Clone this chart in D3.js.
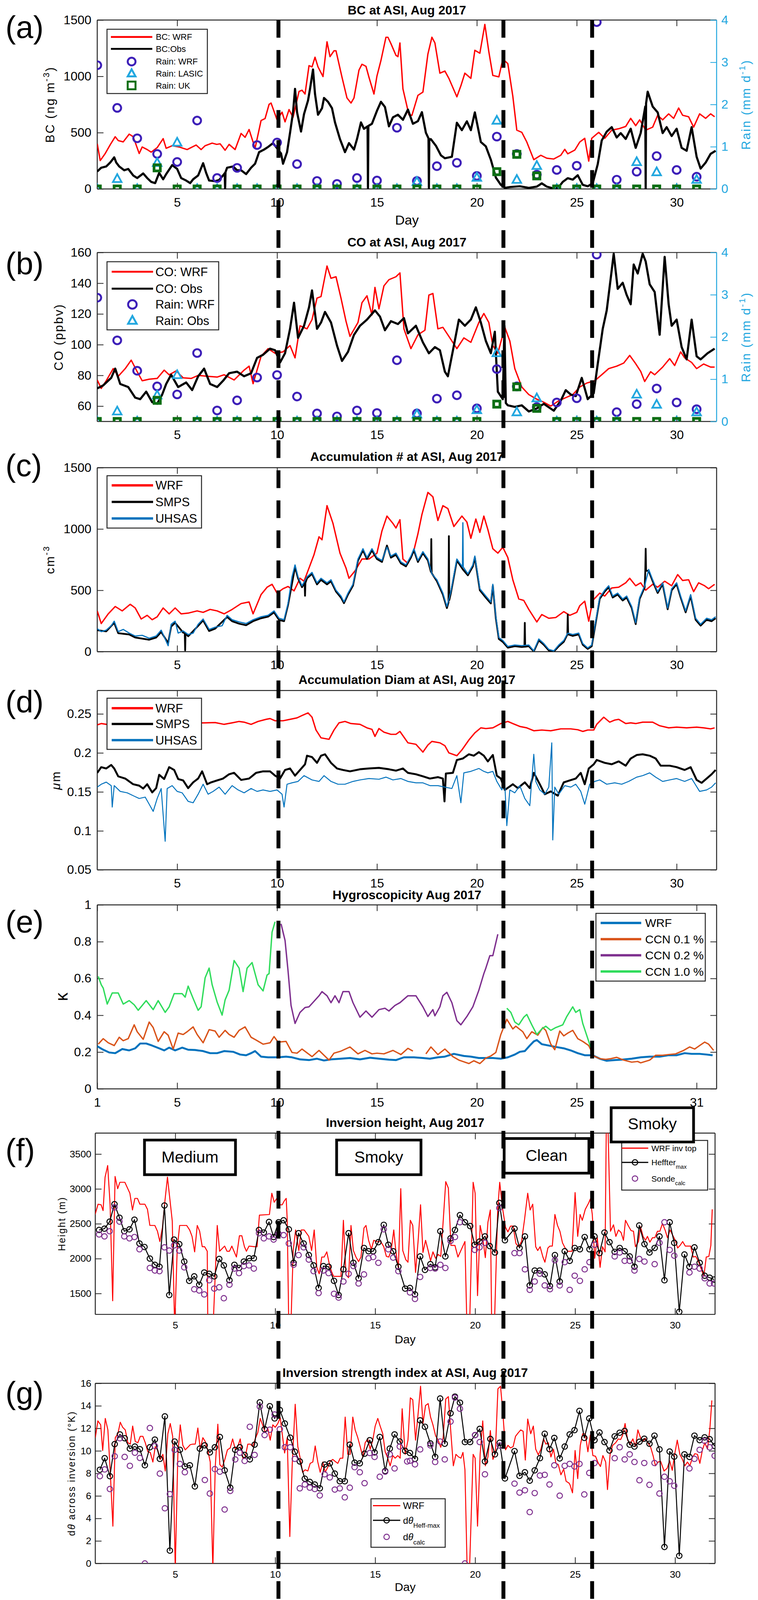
<!DOCTYPE html>
<html>
<head>
<meta charset="utf-8">
<script src="https://cdn.jsdelivr.net/npm/d3@7"></script>
<style>
  html, body { margin: 0; background: #fff; overflow: hidden; }
  svg { display: block; width: 100vw; height: 100vh; }
  svg text { font-family: "Liberation Sans", Arial, Helvetica, sans-serif; }
</style>
</head>
<body>
<svg id="fig"></svg>
<script>
// ---------- data (day of Aug 2017, value) ----------
const xTicks = [5, 10, 15, 20, 25, 30];
const xTicksE = [1, 5, 10, 15, 20, 25, 31];
const rainTicks = [0, 1, 2, 3, 4];
const dashDays = [10.07, 21.33, 25.77];

// (a) BC
const bcWrf = [[1.0,401],[1.15,252],[1.4,315],[1.66,396],[1.9,464],[2.05,430],[2.3,418],[2.6,487],[2.8,464],[3.1,315],[3.25,373],[3.5,350],[3.7,327],[4.0,367],[4.3,447],[4.45,361],[4.75,384],[5.1,373],[5.3,361],[5.5,350],[5.95,390],[6.2,350],[6.4,384],[6.75,407],[6.98,396],[7.15,401],[7.4,344],[7.6,396],[7.9,350],[8.2,493],[8.4,459],[8.6,528],[8.9,361],[9.2,608],[9.4,625],[9.6,751],[9.7,763],[10.0,614],[10.25,682],[10.4,596],[10.6,705],[10.8,636],[11.1,866],[11.25,877],[11.4,843],[11.6,1095],[11.75,1084],[11.9,1170],[12.05,1084],[12.3,998],[12.5,1307],[12.65,1175],[12.85,1227],[12.95,1227],[13.25,992],[13.5,808],[13.7,763],[13.85,808],[14.1,1055],[14.25,1107],[14.45,1089],[14.6,992],[14.85,843],[15.0,1003],[15.2,1141],[15.45,1347],[15.55,1347],[15.7,1290],[15.95,1187],[16.05,1175],[16.15,1296],[16.3,889],[16.6,659],[16.75,654],[17.05,831],[17.3,860],[17.55,1198],[17.75,1347],[17.9,1297],[18.15,1028],[18.4,1047],[18.6,982],[19.0,818],[19.2,916],[19.4,1028],[19.7,982],[19.9,1231],[20.15,1205],[20.4,1461],[20.6,1218],[20.8,1008],[21.1,995],[21.3,1152],[21.55,1113],[21.8,824],[22.0,522],[22.25,503],[22.5,417],[22.85,260],[23.2,299],[23.5,273],[23.85,266],[24.2,299],[24.4,352],[24.55,312],[24.9,345],[25.15,417],[25.4,450],[25.6,247],[25.75,450],[26.1,503],[26.4,450],[26.75,522],[27.1,535],[27.45,555],[27.7,627],[27.95,562],[28.15,614],[28.45,522],[28.8,549],[29.05,654],[29.3,614],[29.6,667],[29.85,627],[30.1,719],[30.3,654],[30.6,641],[30.85,549],[31.15,667],[31.45,627],[31.7,667],[31.9,641]];
const bcObs = [[1.0,155],[1.2,189],[1.45,200],[1.65,235],[1.85,281],[1.95,235],[2.1,200],[2.35,166],[2.55,178],[2.8,120],[3.0,97],[3.3,138],[3.5,97],[3.7,63],[3.9,52],[4.1,143],[4.3,86],[4.45,132],[4.75,212],[5.0,178],[5.2,97],[5.45,75],[5.65,52],[5.8,86],[6.05,120],[6.3,229],[6.45,143],[6.6,75],[6.9,69],[7.1,80],[7.35,132],[7.38,140],[7.4,0],[7.42,150],[7.5,189],[7.8,200],[8.0,166],[8.2,166],[8.45,132],[8.7,189],[8.9,224],[9.1,327],[9.35,350],[9.55,373],[9.8,407],[10.0,361],[10.2,315],[10.3,224],[10.5,327],[10.65,499],[10.8,682],[10.9,889],[11.0,682],[11.2,510],[11.35,665],[11.55,786],[11.65,889],[11.8,1061],[11.9,843],[12.05,659],[12.25,717],[12.35,808],[12.55,774],[12.75,717],[12.9,591],[13.15,442],[13.4,327],[13.6,407],[13.85,350],[14.0,442],[14.2,591],[14.35,534],[14.53,556],[14.55,0],[14.57,560],[14.75,579],[15.0,694],[15.2,774],[15.4,728],[15.6,556],[15.8,636],[16.05,659],[16.3,614],[16.55,705],[16.8,579],[17.05,602],[17.25,682],[17.45,499],[17.58,450],[17.6,0],[17.62,442],[17.7,442],[17.95,384],[18.2,299],[18.4,273],[18.75,286],[19.0,588],[19.25,522],[19.5,601],[19.7,522],[19.9,680],[20.2,417],[20.45,378],[20.7,260],[20.95,102],[21.2,37],[21.4,10],[21.65,17],[22.15,24],[22.6,10],[23.0,21],[23.25,50],[23.5,21],[23.85,4],[24.1,17],[24.3,63],[24.55,96],[24.8,83],[25.05,122],[25.3,37],[25.55,24],[25.8,50],[26.05,220],[26.25,430],[26.5,509],[26.75,549],[27.0,457],[27.2,496],[27.45,444],[27.7,535],[27.95,365],[28.2,496],[28.43,732],[28.45,0],[28.47,760],[28.55,864],[28.8,732],[29.05,680],[29.3,496],[29.5,549],[29.75,470],[30.0,535],[30.25,365],[30.5,339],[30.75,549],[31.0,286],[31.2,181],[31.45,234],[31.7,312],[31.95,339]];

// daily rain (mm/d), shared by (a) and (b)
const rainDays = [1,2,3,4,5,6,7,8,9,10,11,12,13,14,15,16,17,18,19,20,21,22,23,24,25,26,27,28,29,30,31];
const rainWrf = [2.93,1.92,1.2,0.83,0.64,1.62,0.26,0.5,1.04,1.1,0.59,0.19,0.12,0.26,0.2,1.45,0.19,0.54,0.62,0.31,1.24,0.83,0.34,0.45,0.55,3.95,0.22,0.41,0.78,0.45,0.29];
const rainLasic = [0,0.24,0,0.62,1.1,0,0,0,0,0,0,0,0,0,0,0,0.17,0,0,0.27,1.62,0.22,0.55,0,0,0,0,0.64,0.4,0,0.22];
const rainUk = [0,0,0,0.5,0,0,0,0,0,0,0,0,0,0,0,0,0,0,0,0,0.41,0.82,0.31,0,0,0,0,0,0,0,0];

// (b) CO
const coWrf = [[1.0,77],[1.2,71.5],[1.45,76.5],[1.8,84.4],[2.05,79.4],[2.4,84.4],[2.7,89.9],[3.0,82.4],[3.25,76.5],[3.6,77.5],[4.0,78],[4.35,83.4],[4.6,80.4],[4.95,82.9],[5.3,78.4],[5.7,78],[6.05,80],[6.5,79.4],[7.0,78.9],[7.35,80.4],[7.85,77],[8.35,83.4],[8.6,86],[8.8,74.6],[9.2,92.4],[9.55,97.4],[9.9,94.4],[10.3,95.3],[10.65,99.4],[10.9,91.4],[11.15,112.3],[11.5,110.3],[11.75,116.3],[12.0,130.3],[12.2,131.3],[12.5,151.2],[12.7,143.2],[12.95,144.2],[13.2,130.3],[13.45,115.3],[13.65,105.4],[14.05,114.4],[14.25,127.3],[14.5,131.8],[14.75,119.3],[14.9,137.3],[15.1,123.3],[15.35,138.3],[15.6,142.3],[15.95,144.2],[16.15,146.7],[16.35,110.3],[16.7,97.4],[17.05,106.4],[17.4,109.4],[17.6,132.3],[17.8,133.3],[18.05,110.3],[18.3,111.3],[18.6,105.4],[19.0,97.4],[19.35,104.4],[19.7,101.5],[20.1,114.4],[20.35,120.3],[20.6,114.4],[20.8,99.4],[21.05,94.4],[21.4,111.3],[21.65,102.4],[21.9,84.4],[22.25,72.4],[22.6,67.5],[23.0,64.5],[23.35,62.5],[23.7,60],[24.1,63.5],[24.45,65.5],[24.8,67.5],[25.15,72.4],[25.5,75],[25.9,76.5],[26.25,80.4],[26.6,84.4],[27.0,86],[27.35,88],[27.65,93],[27.95,87.6],[28.2,82.6],[28.4,76],[28.7,82.4],[28.9,80.4],[29.3,85.4],[29.65,90.9],[29.9,86.4],[30.2,95.3],[30.4,91.4],[30.75,88.4],[31.0,84.4],[31.35,87.4],[31.7,85.4],[31.9,85.4]];
const coObs = [[1.0,71.5],[1.3,73.5],[1.7,78.4],[1.9,84.4],[2.15,74.4],[2.55,72.4],[2.9,65.5],[3.15,64.5],[3.45,69.4],[3.75,62.5],[4.0,61.5],[4.25,67.5],[4.45,74.4],[4.7,80.4],[5.05,72.4],[5.45,75.4],[5.75,70.4],[6.05,79.4],[6.35,84.4],[6.65,74.4],[7.0,72.4],[7.3,76.5],[7.6,81.4],[8.0,82.4],[8.35,79.4],[8.7,81.4],[9.0,91.4],[9.3,93.4],[9.65,97.4],[9.9,96.4],[10.15,88.4],[10.4,94.4],[10.65,110.3],[10.85,127.3],[11.05,104.4],[11.35,112.3],[11.6,124.3],[11.75,135.3],[12.0,110.3],[12.2,114.4],[12.4,121.3],[12.7,114.4],[13.0,99.4],[13.25,89.4],[13.55,95.3],[13.85,106.4],[14.15,112.3],[14.5,116.3],[14.9,122.3],[15.15,118.3],[15.4,109.4],[15.7,115.3],[16.05,113.4],[16.35,117.3],[16.55,107.4],[16.95,112.3],[17.3,101.5],[17.6,94.4],[17.9,98.4],[18.15,96.4],[18.4,82.4],[18.55,79.4],[18.85,99.4],[19.1,116.3],[19.4,112.3],[19.7,116.3],[19.95,124.3],[20.2,114.4],[20.45,102.4],[20.7,94.4],[20.9,108.4],[21.05,69.4],[21.3,64.5],[21.38,112.3],[21.45,62],[21.55,60.5],[21.9,59.5],[22.25,60.5],[22.6,56.5],[23.0,58.5],[23.35,61.5],[23.85,57],[24.2,63.5],[24.45,70.4],[24.7,67.5],[24.95,66.5],[25.25,78.4],[25.55,64.5],[25.85,68.4],[26.05,87.4],[26.3,110.3],[26.5,122.3],[26.7,143.2],[26.85,159.2],[27.05,136.3],[27.3,140.3],[27.5,132.3],[27.7,126.3],[27.85,152.2],[28.05,146.3],[28.3,159.2],[28.45,154.2],[28.65,139.3],[28.9,134.3],[29.15,106.4],[29.4,157.2],[29.6,126.3],[29.75,112.3],[30.0,116.3],[30.25,98.4],[30.5,90.4],[30.75,116.3],[31.0,92.4],[31.2,90.4],[31.55,94.4],[31.9,97.4]];

// (c) accumulation number
const accWrf = [[1.0,332],[1.2,229],[1.55,308],[1.9,368],[2.25,332],[2.65,386],[2.9,356],[3.2,266],[3.5,296],[3.75,260],[4.0,284],[4.3,356],[4.6,308],[4.9,356],[5.2,308],[5.55,314],[6.0,332],[6.3,320],[6.65,344],[7.0,332],[7.35,308],[7.75,344],[8.2,392],[8.6,405],[8.8,308],[9.2,465],[9.5,525],[9.75,549],[10.0,477],[10.3,513],[10.55,531],[10.85,495],[11.15,598],[11.35,574],[11.6,682],[11.85,791],[12.1,936],[12.25,912],[12.5,1190],[12.8,1045],[13.15,803],[13.45,682],[13.6,598],[13.9,658],[14.25,755],[14.6,755],[15.0,803],[15.25,984],[15.5,1105],[15.8,1045],[15.95,1008],[16.15,1075],[16.3,755],[16.55,719],[16.85,827],[17.05,960],[17.25,1117],[17.55,1298],[17.8,1262],[18.05,1069],[18.3,1190],[18.55,1166],[18.85,1020],[19.25,1105],[19.5,1057],[19.7,924],[19.95,1081],[20.15,972],[20.35,1105],[20.55,996],[20.8,839],[21.05,803],[21.3,851],[21.55,767],[21.8,586],[22.1,429],[22.35,417],[22.6,344],[23.0,242],[23.25,302],[23.6,272],[23.95,278],[24.35,326],[24.65,296],[25.0,320],[25.15,374],[25.4,411],[25.6,248],[25.8,417],[26.15,477],[26.4,453],[26.75,519],[27.1,525],[27.45,561],[27.65,598],[27.95,537],[28.2,561],[28.45,501],[28.8,549],[29.05,525],[29.4,574],[29.75,537],[30.05,628],[30.3,580],[30.6,586],[30.85,489],[31.1,561],[31.4,537],[31.6,513],[31.9,549]];
const accSmps = [[1.0,175],[1.45,165],[1.85,235],[2.05,150],[2.6,140],[2.9,115],[3.6,97],[3.95,115],[4.2,160],[4.55,70],[4.7,205],[4.9,235],[5.3,155],[5.38,150],[5.4,10],[5.42,150],[5.55,125],[6.05,210],[6.3,255],[6.6,168],[6.9,187],[7.5,282],[7.75,248],[8.1,228],[8.45,215],[8.8,248],[9.2,272],[9.55,285],[9.85,320],[10.1,258],[10.35,248],[10.55,380],[10.9,690],[11.05,598],[11.25,525],[11.38,560],[11.4,455],[11.42,560],[11.5,598],[11.75,634],[12.0,548],[12.2,585],[12.5,548],[12.7,574],[12.95,490],[13.2,440],[13.35,395],[13.55,465],[13.8,538],[14.05,742],[14.3,826],[14.5,755],[14.75,826],[15.0,755],[15.25,731],[15.5,865],[15.7,766],[15.95,790],[16.2,719],[16.45,695],[16.7,767],[16.85,826],[17.05,731],[17.3,803],[17.55,743],[17.7,650],[17.72,918],[17.74,640],[18.0,574],[18.3,465],[18.5,355],[18.58,400],[18.6,942],[18.62,420],[18.7,477],[19.0,743],[19.3,670],[19.55,622],[19.8,695],[19.9,767],[20.15,500],[20.45,440],[20.7,393],[20.8,537],[20.95,272],[21.1,103],[21.3,79],[21.55,32],[21.9,44],[22.25,38],[22.38,40],[22.4,235],[22.42,40],[22.6,44],[22.85,2],[23.1,92],[23.35,56],[23.6,10],[23.85,0],[24.1,44],[24.35,80],[24.53,140],[24.55,302],[24.57,140],[24.8,128],[25.1,140],[25.3,56],[25.55,22],[25.75,44],[25.95,236],[26.15,430],[26.4,490],[26.6,525],[26.8,441],[27.05,465],[27.3,417],[27.5,441],[27.75,356],[27.95,224],[28.15,430],[28.4,525],[28.43,650],[28.45,839],[28.47,660],[28.6,658],[28.8,575],[29.05,478],[29.3,550],[29.55,345],[29.75,500],[30.0,550],[30.2,442],[30.45,320],[30.7,453],[30.95,260],[31.2,212],[31.5,260],[31.75,248],[31.95,272]];
const accUhsas = [[1.0,187],[1.2,163],[1.45,175],[1.7,211],[1.85,248],[2.05,163],[2.3,181],[2.6,151],[2.9,127],[3.25,133],[3.6,109],[3.95,127],[4.2,175],[4.4,103],[4.55,48],[4.7,223],[4.9,248],[5.05,151],[5.3,169],[5.55,139],[5.8,151],[6.05,223],[6.3,266],[6.6,181],[6.9,199],[7.25,211],[7.5,296],[7.75,260],[8.1,242],[8.45,229],[8.8,260],[9.2,284],[9.55,296],[9.85,332],[10.1,272],[10.35,260],[10.55,392],[10.75,610],[10.9,707],[11.05,610],[11.25,537],[11.5,610],[11.75,646],[12.0,561],[12.2,598],[12.5,561],[12.7,586],[12.95,501],[13.2,453],[13.35,405],[13.55,477],[13.8,549],[14.05,755],[14.3,839],[14.5,767],[14.75,839],[15.0,767],[15.25,743],[15.5,851],[15.7,779],[15.95,803],[16.2,731],[16.45,707],[16.7,779],[16.85,839],[17.05,743],[17.3,815],[17.55,755],[17.75,634],[18.0,586],[18.3,477],[18.5,368],[18.7,489],[19.0,755],[19.28,690],[19.3,1051],[19.32,690],[19.55,634],[19.8,707],[19.9,779],[20.15,513],[20.45,453],[20.7,405],[20.8,549],[20.95,284],[21.1,115],[21.3,91],[21.55,42],[21.9,54],[22.25,48],[22.6,54],[22.85,6],[23.1,103],[23.35,66],[23.6,18],[23.85,6],[24.1,54],[24.35,91],[24.55,151],[24.8,139],[25.1,151],[25.3,66],[25.55,30],[25.75,54],[25.95,248],[26.15,441],[26.4,501],[26.6,537],[26.8,453],[27.05,477],[27.3,429],[27.5,453],[27.75,368],[27.95,235],[28.15,441],[28.4,537],[28.6,670],[28.8,586],[29.05,489],[29.3,561],[29.55,356],[29.75,513],[30.0,561],[30.2,453],[30.45,332],[30.7,465],[30.95,272],[31.2,223],[31.5,272],[31.75,260],[31.95,284]];

// (d) accumulation diameter (um)
const diamWrf = [[1.0,0.236],[1.2,0.2376],[1.45,0.2366],[1.8,0.237],[2.55,0.2376],[3.5,0.2376],[4.45,0.2381],[5.45,0.2381],[6.4,0.2385],[6.9,0.2389],[7.35,0.2366],[7.75,0.2385],[8.1,0.2403],[8.35,0.2394],[8.7,0.2366],[9.05,0.2403],[9.45,0.243],[9.65,0.244],[9.9,0.2412],[10.3,0.2412],[10.65,0.243],[11.0,0.2449],[11.3,0.2485],[11.55,0.2513],[11.75,0.2458],[11.95,0.2293],[12.2,0.2193],[12.6,0.2174],[12.85,0.2293],[13.1,0.2385],[13.4,0.2403],[13.7,0.2376],[14.15,0.2366],[14.5,0.2321],[14.75,0.2302],[14.9,0.2211],[15.1,0.2312],[15.35,0.2266],[15.7,0.2238],[15.95,0.2238],[16.15,0.2275],[16.35,0.2202],[16.55,0.2129],[16.95,0.211],[17.3,0.201],[17.55,0.2101],[17.75,0.2147],[18.15,0.2129],[18.4,0.2092],[18.6,0.2],[19.0,0.1964],[19.25,0.2037],[19.6,0.2165],[19.9,0.2257],[20.2,0.2321],[20.45,0.2312],[20.8,0.2321],[21.2,0.2376],[21.55,0.2403],[21.8,0.2376],[22.15,0.2339],[22.5,0.2321],[22.85,0.2284],[23.25,0.2293],[23.7,0.2284],[24.2,0.2308],[24.7,0.2308],[25.05,0.2297],[25.3,0.2275],[25.55,0.2293],[25.85,0.2293],[26.0,0.2366],[26.35,0.2458],[26.65,0.2394],[26.9,0.2421],[27.1,0.243],[27.45,0.2376],[27.7,0.2385],[27.95,0.2376],[28.3,0.2394],[28.8,0.2394],[29.15,0.2348],[29.6,0.2321],[30.0,0.233],[30.5,0.2321],[31.0,0.233],[31.35,0.2321],[31.7,0.2308],[31.9,0.2321]];
const diamSmps = [[1.0,0.1744],[1.2,0.1817],[1.45,0.18],[1.7,0.1845],[1.85,0.18],[2.05,0.1699],[2.4,0.1671],[2.8,0.1598],[3.1,0.158],[3.3,0.1543],[3.5,0.1598],[3.75,0.1493],[3.95,0.1548],[4.1,0.1719],[4.35,0.1665],[4.6,0.1817],[4.85,0.1781],[5.05,0.1665],[5.3,0.1647],[5.55,0.1548],[5.8,0.1622],[6.05,0.1671],[6.25,0.1763],[6.5,0.1598],[6.7,0.1622],[7.0,0.1647],[7.3,0.1671],[7.6,0.1726],[7.85,0.1744],[8.2,0.1653],[8.6,0.1671],[8.95,0.1744],[9.3,0.1763],[9.65,0.1763],[9.9,0.1708],[10.15,0.1671],[10.4,0.1781],[10.65,0.18],[10.9,0.1708],[11.15,0.1781],[11.4,0.1854],[11.5,0.1964],[11.75,0.1946],[12.0,0.1872],[12.2,0.1964],[12.4,0.1982],[12.7,0.1872],[13.0,0.18],[13.3,0.1781],[13.65,0.1763],[14.15,0.179],[14.6,0.18],[15.1,0.1808],[15.6,0.179],[15.95,0.1772],[16.3,0.18],[16.55,0.1744],[16.95,0.1726],[17.3,0.1699],[17.65,0.1671],[18.05,0.1689],[18.3,0.1671],[18.38,0.1378],[18.45,0.1735],[18.8,0.1744],[19.0,0.1909],[19.3,0.1928],[19.6,0.1982],[19.85,0.1964],[20.1,0.201],[20.35,0.1964],[20.55,0.1891],[20.8,0.1973],[21.0,0.1708],[21.2,0.1671],[21.4,0.1525],[21.8,0.1598],[22.05,0.1548],[22.4,0.1622],[22.65,0.1548],[22.85,0.1744],[23.15,0.1598],[23.4,0.147],[23.7,0.1506],[24.05,0.1451],[24.35,0.1622],[24.65,0.1647],[24.95,0.1671],[25.2,0.1744],[25.4,0.1598],[25.6,0.18],[25.85,0.1854],[26.0,0.1909],[26.4,0.1872],[26.75,0.1854],[27.1,0.1891],[27.45,0.1836],[27.7,0.1928],[28.0,0.1973],[28.3,0.1982],[28.65,0.1964],[28.95,0.1928],[29.2,0.1836],[29.65,0.1836],[30.0,0.1817],[30.4,0.1781],[30.7,0.1817],[31.0,0.1653],[31.25,0.1616],[31.5,0.1671],[31.75,0.1726],[31.95,0.1781]];
const diamUhsas = [[1.0,0.1561],[1.2,0.1598],[1.45,0.1625],[1.7,0.158],[1.75,0.1305],[1.85,0.158],[2.15,0.1506],[2.5,0.1488],[2.8,0.1451],[3.1,0.1415],[3.4,0.1433],[3.6,0.1342],[3.8,0.125],[4.0,0.1415],[4.2,0.1543],[4.4,0.0866],[4.5,0.1543],[4.75,0.158],[5.0,0.1506],[5.25,0.1488],[5.55,0.1378],[5.8,0.136],[6.05,0.147],[6.3,0.1598],[6.55,0.147],[6.8,0.1506],[7.1,0.1561],[7.4,0.147],[7.75,0.158],[8.05,0.1525],[8.35,0.1488],[8.7,0.1543],[9.0,0.1506],[9.3,0.1525],[9.65,0.1506],[10.0,0.1525],[10.25,0.147],[10.35,0.1305],[10.5,0.1598],[10.75,0.1616],[11.05,0.1634],[11.35,0.1708],[11.75,0.1653],[12.1,0.1634],[12.35,0.1708],[12.7,0.1634],[13.05,0.1598],[13.4,0.1598],[13.8,0.1634],[14.15,0.1653],[14.6,0.1671],[15.1,0.1662],[15.45,0.1689],[15.8,0.1653],[16.2,0.1671],[16.55,0.1634],[16.95,0.1616],[17.3,0.1616],[17.65,0.158],[18.05,0.158],[18.4,0.1561],[18.75,0.1543],[19.0,0.1708],[19.2,0.136],[19.35,0.1744],[19.7,0.1763],[20.1,0.18],[20.35,0.1763],[20.55,0.1744],[20.8,0.1763],[21.0,0.1634],[21.25,0.1525],[21.4,0.1598],[21.5,0.1067],[21.65,0.1525],[21.9,0.1488],[22.15,0.158],[22.4,0.1415],[22.65,0.1323],[22.85,0.1982],[22.95,0.1634],[23.15,0.1525],[23.4,0.147],[23.6,0.1561],[23.75,0.2129],[23.8,0.0884],[23.9,0.1561],[24.1,0.147],[24.4,0.158],[24.7,0.1561],[24.95,0.1598],[25.2,0.1506],[25.4,0.1342],[25.65,0.1598],[25.9,0.1634],[26.15,0.1653],[26.5,0.1598],[26.9,0.1616],[27.25,0.1598],[27.6,0.1634],[28.0,0.1689],[28.3,0.1708],[28.65,0.1744],[28.95,0.1689],[29.3,0.1634],[29.65,0.1653],[30.0,0.1671],[30.4,0.1634],[30.75,0.1671],[31.15,0.1506],[31.5,0.1525],[31.75,0.1561],[31.95,0.1616]];

// (e) hygroscopicity kappa (null = no data)
const kWrf = [[1.0,0.2316],[1.3,0.2128],[1.6,0.1977],[1.9,0.194],[2.25,0.2165],[2.6,0.209],[2.9,0.2203],[3.15,0.2466],[3.45,0.2466],[3.75,0.2353],[4.1,0.2203],[4.35,0.209],[4.6,0.2241],[4.9,0.209],[5.25,0.2241],[5.55,0.2128],[5.9,0.2113],[6.3,0.2053],[6.65,0.194],[7.0,0.194],[7.35,0.2053],[7.8,0.2015],[8.15,0.1865],[8.45,0.1827],[8.7,0.194],[8.9,0.2053],[9.2,0.1752],[9.55,0.1714],[10.05,0.1714],[10.45,0.1752],[10.75,0.1714],[11.15,0.1602],[11.6,0.1564],[12.0,0.1639],[12.35,0.1541],[12.7,0.1602],[13.2,0.1639],[13.65,0.1677],[14.15,0.1602],[14.65,0.1692],[15.1,0.1639],[15.6,0.1586],[15.95,0.1564],[16.35,0.1714],[16.85,0.1714],[17.3,0.1677],[17.65,0.1639],[18.05,0.1714],[18.4,0.1752],[18.85,0.1902],[19.35,0.1789],[19.7,0.1752],[20.1,0.1677],[20.45,0.1677],[20.8,0.1677],[21.2,0.1639],[21.55,0.1714],[21.9,0.1865],[22.15,0.2015],[22.4,0.2053],[22.65,0.2353],[22.85,0.2579],[23.0,0.2654],[23.25,0.2429],[23.6,0.2353],[23.95,0.2278],[24.35,0.2203],[24.7,0.209],[25.05,0.194],[25.4,0.1827],[25.8,0.1827],[26.15,0.1639],[26.5,0.1526],[26.9,0.1564],[27.25,0.1586],[27.75,0.1639],[28.2,0.1714],[28.65,0.1752],[29.15,0.1752],[29.6,0.1827],[30.0,0.1827],[30.4,0.194],[30.75,0.1902],[31.15,0.1902],[31.5,0.1865],[31.8,0.1827]];
const kCcn01 = [[1.05,0.2429],[1.3,0.2729],[1.55,0.2504],[1.85,0.2353],[2.1,0.2805],[2.3,0.2617],[2.55,0.2729],[2.85,0.3481],[3.0,0.3105],[3.3,0.2692],[3.6,0.3632],[3.8,0.3331],[4.05,0.2579],[4.35,0.3105],[4.55,0.2917],[4.8,0.2165],[5.05,0.303],[5.3,0.2955],[5.5,0.3105],[5.8,0.3368],[6.0,0.2955],[6.3,0.2504],[6.6,0.3218],[6.9,0.3143],[7.1,0.2805],[7.4,0.318],[7.6,0.2955],[7.85,0.2805],[8.1,0.318],[8.4,0.3368],[8.7,0.2805],[8.95,0.2654],[9.3,0.2429],[9.65,0.2504],[9.85,0.2842],[10.05,0.2541],[10.45,0.2579],[10.75,0.1977],[11.0,0.194],[11.25,0.2165],[11.75,0.1752],[12.1,0.209],[12.35,0.1827],[12.6,0.1564],[12.85,0.194],[13.2,0.2053],[13.65,0.2278],[14.05,0.1902],[14.4,0.209],[14.75,0.1902],[15.0,0.194],[15.35,0.1902],[15.8,0.209],[16.2,0.1865],[16.55,0.2203],[16.8,0.2053],[17.1,null],[17.45,0.1902],[17.7,0.2278],[18.05,0.1865],[18.4,0.2165],[18.8,0.1752],[19.1,0.1564],[19.6,0.1376],[19.85,0.1526],[20.15,0.1376],[20.45,0.1677],[20.7,0.1789],[20.95,0.1977],[21.2,0.2955],[21.5,0.3782],[21.8,0.3256],[21.95,0.3406],[22.3,0.3105],[22.5,0.2729],[22.75,0.3105],[23.05,0.2917],[23.3,0.3331],[23.45,0.318],[23.7,0.2429],[23.9,0.2128],[24.15,0.3143],[24.35,0.288],[24.55,0.303],[24.8,0.318],[25.05,0.2729],[25.3,0.2579],[25.6,0.2353],[25.85,0.1789],[26.15,0.1639],[26.45,0.1602],[26.7,0.1639],[27.0,0.1714],[27.35,0.1564],[27.75,0.1451],[28.05,0.1489],[28.2,0.1414],[28.65,0.1564],[28.95,0.1827],[29.3,0.1827],[29.6,0.1865],[29.95,0.1902],[30.35,0.209],[30.65,0.2278],[30.9,0.2165],[31.15,0.2353],[31.4,0.2541],[31.6,0.2429],[31.85,0.209]];
const kCcn02 = [[10.2,0.897],[10.4,0.8068],[10.55,0.6414],[10.7,0.4534],[10.9,0.3556],[11.15,0.4158],[11.4,0.4421],[11.6,0.4459],[11.85,0.4759],[12.1,0.506],[12.25,0.5286],[12.5,0.506],[12.7,0.4684],[12.9,0.506],[13.1,0.4684],[13.3,0.5286],[13.6,0.5286],[13.8,0.4684],[14.15,0.3895],[14.45,0.4233],[14.75,0.3895],[15.1,0.4308],[15.4,0.4383],[15.6,0.4233],[15.9,0.4534],[16.15,0.4684],[16.55,0.506],[16.95,0.506],[17.3,0.4459],[17.55,0.3932],[17.8,0.4308],[17.9,0.397],[18.15,0.4459],[18.3,0.506],[18.5,0.5248],[18.75,0.4684],[19.0,0.3707],[19.2,0.3481],[19.5,0.3932],[19.8,0.4459],[20.1,0.5361],[20.35,0.6263],[20.45,0.6564],[20.65,0.7241],[20.8,0.7241],[21.05,0.8406]];
const kCcn10 = [[1.05,0.6113],[1.2,0.5662],[1.3,0.5474],[1.5,0.4609],[1.75,0.5211],[2.05,0.5211],[2.3,0.4609],[2.6,0.4797],[2.85,0.4571],[3.05,0.4271],[3.45,0.4797],[3.8,0.4308],[4.05,0.4797],[4.4,0.4158],[4.6,0.4459],[4.85,0.5173],[5.25,0.5173],[5.4,0.4985],[5.55,0.5586],[5.8,0.491],[6.05,0.4271],[6.2,0.4459],[6.4,0.6038],[6.6,0.6564],[6.75,0.5662],[7.0,0.4722],[7.25,0.4008],[7.4,0.4835],[7.6,0.5361],[7.85,0.6977],[8.1,0.6564],[8.3,0.5286],[8.5,0.6564],[8.75,0.6865],[9.05,0.5662],[9.3,0.5323],[9.5,0.6188],[9.6,0.6263],[9.75,0.8519],[9.9,0.9083],[15,null],[21.5,0.4383],[21.7,0.4158],[21.9,0.3632],[22.1,0.3481],[22.35,0.3895],[22.5,0.4045],[22.75,0.3481],[23.0,0.2955],[23.25,0.3256],[23.45,0.3406],[23.7,0.318],[23.95,0.3331],[24.3,0.3481],[24.5,0.3932],[24.8,0.4459],[24.95,0.4158],[25.15,0.4308],[25.3,0.3556],[25.6,0.2579],[25.7,0.2241]];

// (f) inversion height (m); values below 1200 / above 3800 are off-axis
const invWrf = [[0.99,2633],[1.14,2781],[1.29,2772],[1.39,2689],[1.49,3169],[1.62,3335],[1.74,2781],[1.87,1395],[1.99,3178],[2.12,3003],[2.23,3095],[2.48,3095],[2.73,2938],[2.86,2698],[2.98,2864],[3.11,2864],[3.23,2781],[3.48,2781],[3.61,2707],[3.73,2476],[3.98,2476],[4.11,2393],[4.23,2245],[4.36,2448],[4.48,2818],[4.61,3169],[4.73,2855],[4.85,2541],[4.97,1000],[5.1,2153],[5.22,2476],[5.57,2476],[5.72,2411],[5.84,2319],[5.97,2097],[6.1,2476],[6.22,2393],[6.35,2171],[6.47,2171],[6.6,2106],[6.63,1000],[6.89,1000],[7.1,2476],[7.22,2106],[7.47,2180],[7.59,2106],[7.71,2106],[7.83,2180],[8.06,2023],[8.21,2328],[8.33,2328],[8.46,2171],[8.56,2106],[8.69,2180],[8.96,2171],[9.09,2171],[9.21,2624],[9.71,2633],[9.83,2938],[9.95,2809],[10.08,2864],[10.2,2772],[10.35,2772],[10.45,2827],[10.55,2864],[10.6,2559],[10.68,1000],[10.78,1000],[10.9,2116],[11.02,2411],[11.18,2116],[11.3,2411],[11.45,2411],[11.68,2319],[11.82,2116],[11.95,2411],[12.08,1875],[12.2,1783],[12.33,2023],[12.45,2023],[12.58,2097],[12.7,1931],[12.81,1820],[12.92,1746],[13.29,1746],[13.41,2550],[13.54,1765],[13.67,1727],[13.79,2476],[13.91,2116],[14.04,2023],[14.17,1958],[14.29,2023],[14.44,2439],[14.54,2476],[14.67,2263],[14.81,2134],[14.93,2263],[15.06,2245],[15.28,2245],[15.43,2171],[15.56,2032],[15.68,2023],[15.8,2116],[15.93,2411],[16.03,2116],[16.16,1857],[16.28,3003],[16.38,2116],[16.53,1986],[16.64,1949],[16.76,2550],[16.88,2476],[17.02,1801],[17.15,2263],[17.27,2772],[17.39,2088],[17.52,2263],[17.65,2116],[17.77,1968],[17.89,2097],[18.02,2005],[18.15,2060],[18.28,2032],[18.4,2531],[18.53,3104],[18.66,3012],[18.79,2189],[18.99,2189],[19.14,2023],[19.49,2245],[19.59,1000],[19.72,1000],[19.9,3095],[20.0,2938],[20.12,1469],[20.25,2476],[20.38,2300],[20.51,2014],[20.64,2522],[20.76,2698],[20.83,1000],[20.96,1000],[21.13,2707],[21.23,3095],[21.36,2744],[21.52,2448],[21.64,2384],[21.77,2467],[21.9,2467],[22.04,2217],[22.17,2171],[22.32,2245],[22.47,2559],[22.63,2938],[22.75,2698],[22.88,2781],[23.03,2171],[23.13,2116],[23.25,2171],[23.39,2023],[23.49,1949],[23.64,2153],[23.74,2180],[23.86,2180],[23.99,2633],[24.12,2476],[24.24,2393],[24.37,2226],[24.5,2153],[24.63,2106],[24.85,2106],[25.0,2947],[25.13,2319],[25.25,2633],[25.36,2550],[25.51,2707],[25.68,2799],[25.76,2855],[25.86,2633],[25.98,2005],[26.11,2300],[26.25,1875],[26.37,2171],[26.5,2097],[26.57,4200],[26.62,4200],[26.77,2393],[26.92,2485],[27.04,2319],[27.17,2411],[27.3,2374],[27.42,2263],[27.52,2550],[27.67,2467],[27.8,2402],[27.92,2393],[28.02,2171],[28.17,2245],[28.27,2457],[28.4,2319],[28.52,2263],[28.62,2319],[28.74,2236],[28.87,2300],[28.99,2300],[29.12,2393],[29.24,2393],[29.37,2504],[29.5,2411],[29.62,2300],[29.75,2411],[29.88,2337],[30.01,2263],[30.13,2153],[30.25,2189],[30.38,2245],[30.51,2180],[30.78,2180],[30.91,2023],[31.03,2032],[31.16,1968],[31.29,1866],[31.44,1746],[31.56,2023],[31.69,2032],[31.79,2189],[31.86,2707]];
const invHeff = [[1.19,2411],[1.46,2430],[1.72,2531],[1.96,2781],[2.21,2587],[2.45,2393],[2.71,2420],[2.96,2559],[3.21,2217],[3.46,2167],[3.73,2001],[3.98,1912],[4.21,1884],[4.46,2762],[4.7,1478],[4.94,2273],[5.2,2208],[5.45,1958],[5.7,1681],[5.95,1746],[6.2,1626],[6.45,1801],[6.7,1783],[6.95,1746],[7.2,1995],[7.43,1903],[7.71,1690],[7.96,1912],[8.19,1866],[8.43,1958],[8.69,2005],[8.93,2005],[9.19,2411],[9.43,2374],[9.69,2526],[9.92,2310],[10.17,2522],[10.42,2550],[10.68,2420],[10.92,1940],[11.17,2365],[11.42,2217],[11.68,2051],[11.92,1903],[12.17,1579],[12.41,1893],[12.67,1884],[12.94,1681],[13.17,1478],[13.41,1847],[13.67,2365],[13.91,1940],[14.17,1718],[14.44,2153],[14.67,2106],[14.9,2106],[15.16,2236],[15.43,2485],[15.66,2199],[15.9,2106],[16.16,1884],[16.5,1570],[16.74,1579],[16.99,1487],[17.25,2032],[17.49,1838],[17.76,1921],[18.0,1875],[18.26,2393],[18.51,2032],[18.77,2291],[18.99,2411],[19.24,2624],[19.49,2522],[19.75,2467],[19.98,2199],[20.22,2245],[20.49,2319],[20.73,2180],[20.99,2088],[21.21,2799],[21.49,2263],[21.97,2430],[22.22,2153],[22.49,2319],[22.73,1616],[22.98,1829],[23.23,1829],[23.48,1774],[23.74,1607],[23.99,2051],[24.23,1672],[24.48,2106],[24.73,1968],[24.98,2153],[25.24,2134],[25.48,2310],[25.72,2134],[25.97,2319],[26.22,2079],[26.47,2374],[26.72,2236],[26.98,2097],[27.23,2153],[27.48,2106],[27.73,2032],[27.97,1884],[28.21,2476],[28.47,2208],[28.72,2088],[28.98,2153],[29.22,2319],[29.47,1690],[29.73,2522],[29.96,2226],[30.21,1237],[30.47,2060],[30.72,1884],[30.97,2162],[31.23,1940],[31.48,1755],[31.73,1727],[31.95,1700]];
const invSonde = [[1.19,2347],[1.46,2319],[1.72,2393],[1.96,2735],[2.21,2531],[2.45,2319],[2.71,2291],[2.96,2310],[3.21,2134],[3.73,1866],[3.98,1829],[4.21,1820],[4.46,2162],[4.7,2116],[4.94,2189],[5.2,2116],[5.45,1875],[5.95,1561],[6.2,1543],[6.45,1487],[6.7,1690],[6.95,1570],[7.2,1589],[7.43,1432],[7.71,1626],[7.96,1857],[8.19,1792],[8.43,1893],[8.69,1903],[8.93,1857],[9.19,2365],[9.43,2291],[9.69,2319],[9.92,2273],[10.17,2356],[10.42,2337],[10.68,2217],[10.92,1912],[11.17,2051],[11.42,2162],[11.68,1986],[11.92,1820],[12.17,1506],[12.41,1829],[12.67,1792],[12.94,1496],[13.17,1441],[13.41,1672],[13.67,1783],[13.91,1893],[14.17,1644],[14.44,1774],[14.67,2005],[14.9,2023],[15.16,1940],[15.43,2420],[15.66,2134],[15.9,2014],[16.16,1820],[16.74,1515],[16.99,1422],[17.25,1737],[17.76,1866],[18.0,1857],[18.26,1912],[18.51,1866],[18.77,2254],[18.99,2310],[19.24,2522],[19.98,2125],[20.22,2162],[20.49,2226],[21.21,2726],[21.97,2079],[22.22,2079],[22.49,1847],[22.73,1552],[22.98,1672],[23.23,1783],[23.48,1616],[23.74,1561],[23.99,1977],[24.23,1616],[24.48,1949],[24.73,1552],[24.98,1755],[25.24,1681],[25.48,1847],[25.72,1949],[25.97,2199],[26.98,2032],[27.23,2088],[27.48,1968],[27.73,1968],[27.97,1829],[28.21,1995],[28.47,1958],[28.98,1921],[29.22,2226],[29.47,2522],[29.73,2125],[29.96,2042],[30.72,1801],[30.97,1884],[31.23,1857],[31.48,1718],[31.73,1644],[31.95,1644]];

// (g) inversion strength (K); negative = off-axis
const dthWrf = [[1.0,11.17],[1.13,12.66],[1.27,12.31],[1.37,10.03],[1.5,12.88],[1.63,11.86],[1.75,8.1],[1.88,3.31],[2.0,11.17],[2.13,11.52],[2.25,12.54],[2.37,12.09],[2.5,11.86],[2.63,10.72],[2.75,10.6],[2.87,12.2],[3.0,10.83],[3.13,10.72],[3.25,11.29],[3.38,11.29],[3.5,10.72],[3.63,9.92],[3.75,9.86],[3.88,9.01],[4.0,10.38],[4.13,10.03],[4.25,9.24],[4.38,9.69],[4.5,8.21],[4.63,11.52],[4.75,12.43],[4.87,11.29],[5.0,-0.5],[5.13,9.69],[5.25,12.31],[5.38,10.49],[5.5,10.09],[5.63,10.32],[5.75,10.55],[5.88,10.6],[6.0,10.6],[6.13,12.03],[6.25,10.15],[6.38,11.17],[6.5,10.83],[6.63,10.03],[6.75,9.01],[6.88,-0.5],[7.0,8.55],[7.13,12.37],[7.23,8.78],[7.35,8.55],[7.48,9.24],[7.61,10.09],[7.75,10.26],[7.87,11.06],[8.0,10.15],[8.13,10.38],[8.25,11.06],[8.38,9.35],[8.5,9.46],[8.63,10.6],[8.75,10.6],[8.88,10.38],[9.0,11.06],[9.13,11.63],[9.25,12.88],[9.38,12.26],[9.5,11.63],[9.63,11.97],[9.75,10.95],[9.88,12.31],[10.0,12.09],[10.13,12.43],[10.25,12.94],[10.35,11.52],[10.47,9.81],[10.6,11.17],[10.73,2.39],[10.85,8.78],[11.0,14.14],[11.13,10.38],[11.25,9.35],[11.37,8.1],[11.5,8.32],[11.63,8.21],[11.75,8.89],[11.88,9.01],[12.0,10.43],[12.13,9.01],[12.25,8.1],[12.38,9.01],[12.5,8.1],[12.63,8.55],[12.75,9.06],[12.88,9.24],[13.0,9.06],[13.13,8.89],[13.25,9.35],[13.38,9.35],[13.5,13.0],[13.63,9.69],[13.75,9.69],[13.88,13.0],[14.0,11.86],[14.13,11.17],[14.25,10.38],[14.38,9.46],[14.5,10.72],[14.63,11.06],[14.75,10.15],[14.88,10.95],[15.0,12.2],[15.13,12.88],[15.25,12.2],[15.38,11.52],[15.5,9.92],[15.63,9.35],[15.75,8.67],[15.88,9.58],[16.0,9.35],[16.13,9.58],[16.25,9.35],[16.35,13.74],[16.5,9.69],[16.64,10.95],[16.76,14.71],[16.88,14.54],[17.02,10.95],[17.15,13.34],[17.27,15.74],[17.39,12.43],[17.52,14.03],[17.65,14.2],[17.77,13.0],[17.89,12.31],[18.02,11.35],[18.15,10.95],[18.28,10.32],[18.4,11.17],[18.53,14.6],[18.66,14.82],[18.79,11.52],[18.91,8.67],[19.04,9.69],[19.17,9.46],[19.29,9.35],[19.39,9.86],[19.49,8.32],[19.6,-0.5],[19.72,-0.5],[19.9,9.69],[20.0,9.35],[20.12,3.31],[20.25,9.69],[20.38,12.66],[20.51,8.67],[20.64,9.46],[20.76,11.8],[20.89,9.24],[21.01,9.81],[21.14,15.51],[21.27,15.74],[21.37,13.74],[21.52,10.09],[21.64,10.49],[21.77,10.26],[21.9,10.38],[22.02,11.29],[22.14,11.57],[22.28,11.86],[22.4,11.74],[22.51,9.18],[22.63,12.83],[22.78,11.52],[22.91,12.2],[23.03,10.15],[23.16,9.64],[23.29,10.15],[23.42,11.06],[23.54,10.6],[23.66,10.72],[23.79,9.46],[23.92,10.15],[24.04,8.89],[24.16,8.78],[24.29,7.87],[24.43,8.38],[24.55,7.3],[24.7,7.13],[24.75,6.96],[24.87,6.27],[25.0,10.03],[25.13,7.53],[25.26,10.49],[25.38,11.52],[25.51,11.52],[25.64,9.92],[25.76,11.4],[25.89,9.58],[26.02,9.52],[26.15,8.95],[26.27,8.61],[26.39,9.58],[26.53,9.01],[26.62,6.56],[26.75,9.69],[26.88,10.49],[27.03,10.72],[27.16,11.06],[27.28,11.0],[27.38,11.4],[27.5,12.43],[27.63,10.95],[27.76,10.6],[27.89,11.06],[28.02,10.38],[28.14,11.86],[28.27,11.17],[28.39,10.83],[28.51,11.12],[28.64,10.72],[28.78,10.32],[28.9,9.58],[29.02,8.67],[29.15,9.01],[29.28,9.06],[29.45,8.21],[29.6,8.44],[29.73,9.12],[29.86,8.27],[29.98,9.69],[30.11,10.95],[30.24,9.69],[30.37,9.24],[30.49,8.67],[30.62,9.01],[30.74,8.67],[30.87,9.41],[30.99,9.75],[31.12,9.69],[31.24,8.89],[31.37,10.09],[31.49,10.72],[31.62,10.15],[31.74,11.92],[31.84,14.48]];
const dthHeff = [[1.23,8.32],[1.47,9.35],[1.73,7.75],[1.97,10.6],[2.23,11.46],[2.47,11.12],[2.73,10.2],[2.98,10.38],[3.23,10.15],[3.48,8.72],[3.73,10.32],[3.98,11.0],[4.23,9.29],[4.48,13.06],[4.73,1.14],[4.97,10.83],[5.23,10.09],[5.48,8.61],[5.73,8.72],[5.98,6.84],[6.23,10.2],[6.47,10.49],[6.73,9.86],[6.98,10.32],[7.23,11.23],[7.47,8.27],[7.75,6.73],[8.0,10.09],[8.23,10.32],[8.47,9.64],[8.73,9.24],[8.97,10.55],[9.23,14.31],[9.47,11.92],[9.73,13.97],[9.97,12.88],[10.23,13.63],[10.48,12.43],[10.75,11.17],[10.98,9.92],[11.23,9.06],[11.48,7.53],[11.73,7.24],[11.98,7.01],[12.23,6.67],[12.47,8.78],[12.73,8.89],[12.98,7.98],[13.23,7.3],[13.48,7.3],[13.73,10.55],[13.97,8.95],[14.23,8.89],[14.47,9.75],[14.73,10.95],[14.97,9.86],[15.23,11.23],[15.5,8.21],[15.73,10.2],[15.97,11.46],[16.23,10.83],[16.5,10.0],[16.74,9.81],[16.99,9.29],[17.25,12.71],[17.49,12.14],[17.76,10.66],[18.0,9.46],[18.25,14.65],[18.48,10.63],[18.77,13.34],[18.99,14.82],[19.24,14.28],[19.49,10.78],[19.75,10.78],[20.0,11.4],[20.23,11.95],[20.49,9.06],[20.76,11.06],[20.99,9.69],[21.23,10.72],[21.49,7.55],[21.97,9.98],[22.22,7.78],[22.49,8.1],[22.73,7.35],[22.98,8.27],[23.24,9.35],[23.48,11.52],[23.72,10.15],[23.96,11.15],[24.23,9.33],[24.48,10.38],[24.73,11.46],[24.97,11.84],[25.22,13.55],[25.46,11.15],[25.71,12.88],[25.97,10.95],[26.22,11.63],[26.47,10.78],[26.72,10.03],[26.98,11.29],[27.23,11.61],[27.48,11.77],[27.73,10.55],[27.97,10.38],[28.22,10.81],[28.46,11.08],[28.72,10.63],[28.97,11.35],[29.22,10.13],[29.47,1.46],[29.73,9.94],[29.96,9.49],[30.21,0.68],[30.47,9.69],[30.72,9.46],[30.97,11.35],[31.23,10.95],[31.48,11.2],[31.73,11.04],[31.98,10.43]];
const dthCalc = [[1.23,7.75],[1.47,8.35],[1.73,6.61],[1.97,9.52],[2.23,11.12],[2.47,9.46],[2.73,8.67],[2.98,9.83],[3.23,9.37],[3.48,0],[3.73,12.03],[3.98,10.43],[4.23,7.98],[4.48,4.9],[4.73,6.16],[4.97,10.09],[5.23,8.84],[5.48,8.1],[6.48,7.41],[6.73,6.21],[6.98,8.38],[7.23,8.15],[7.47,4.79],[7.75,6.44],[8.0,9.24],[8.23,9.83],[8.47,9.1],[8.73,12.14],[8.97,9.64],[9.23,13.93],[9.47,11.4],[9.73,11.88],[9.97,13.23],[10.23,11.92],[10.48,10.32],[10.75,10.32],[10.98,9.29],[11.23,6.67],[11.48,7.01],[11.73,6.73],[11.98,6.61],[12.23,6.04],[12.47,7.92],[12.73,7.64],[12.98,6.56],[13.23,6.67],[13.48,5.87],[13.73,6.73],[13.97,8.55],[14.23,8.1],[14.47,7.13],[14.73,9.81],[14.97,9.46],[15.23,7.7],[15.5,8.15],[15.73,9.69],[15.97,8.44],[16.23,10.38],[16.6,9.06],[16.74,9.12],[16.99,8.8],[17.25,10.13],[17.76,10.49],[18.0,9.01],[18.25,10.83],[18.48,9.24],[18.77,12.6],[18.99,14.73],[19.24,13.74],[19.49,0],[20.0,11.4],[20.23,10.78],[20.49,7.92],[21.23,10.47],[21.97,7.09],[22.22,6.29],[22.49,6.5],[22.73,4.56],[22.98,6.25],[23.24,7.81],[23.48,7.87],[23.72,7.01],[23.96,8.72],[24.23,6.02],[24.48,8.67],[24.73,8.84],[24.97,8.61],[25.22,8.84],[25.46,6.13],[25.71,8.04],[25.97,8.92],[26.98,9.35],[27.23,10.32],[27.48,9.24],[27.73,9.69],[27.97,9.01],[28.22,7.39],[28.46,8.92],[28.72,6.98],[28.97,8.92],[29.22,6.21],[29.47,7.7],[29.73,7.3],[29.96,6.9],[30.72,8.44],[30.97,9.29],[31.23,10.09],[31.48,10.89],[31.73,10.32],[31.98,9.56]];

// ---------- drawing ----------
const W = 1941, H = 4157;
// the figure is laid out in a 1941x4157 user space and stretched to fill the viewport
const svg = d3.select('#fig').attr('viewBox', `0 0 ${W} ${H}`).attr('preserveAspectRatio', 'none');
const defs = svg.append('defs');
const AX = '#262626';
const C = {
  red: '#ff0000', black: '#000000', blue: '#0072bd', rainWrf: '#3d1fb8', rainObs: '#22a7df',
  rainUk: '#0c6e14', orange: '#d95319', purple: '#7e2f8e', green: '#30dc5c'
};

function makePanel(p) {
  const x = d3.scaleLinear().domain([1, 32]).range([p.left, p.right]);
  const y = d3.scaleLinear().domain(p.yDomain).range([p.bottom, p.top]);
  const g = svg.append('g').attr('class', 'panel-' + p.id);
  defs.append('clipPath').attr('id', 'clip-' + p.id).append('rect')
    .attr('x', p.left).attr('y', p.top).attr('width', p.right - p.left).attr('height', p.bottom - p.top);
  // axes under the data, like MATLAB
  const axes = g.append('g');
  const plot = g.append('g').attr('clip-path', `url(#clip-${p.id})`);
  const P = { x, y, g, axes, plot, p };
  drawAxes(P);
  return P;
}

function styleAxis(sel, fs, color) {
  sel.select('.domain').remove();
  sel.selectAll('.tick line').attr('stroke', color || AX).attr('stroke-width', 2);
  sel.selectAll('.tick text').attr('fill', color || '#000').attr('font-size', fs)
    .attr('font-family', '"Liberation Sans", Arial, sans-serif');
}

function drawAxes(P) {
  const { x, y, axes, p } = P;
  const fs = p.fs;
  axes.append('g').attr('transform', `translate(0,${p.bottom})`)
    .call(d3.axisBottom(x).tickValues(p.xTicks).tickSize(-16).tickPadding(p.xPad).tickFormat(d => d))
    .call(s => styleAxis(s, fs));
  axes.append('g').attr('transform', `translate(0,${p.top})`)
    .call(d3.axisTop(x).tickValues(p.xTicks).tickSize(-16).tickFormat(''))
    .call(s => styleAxis(s, fs));
  axes.append('g').attr('transform', `translate(${p.left},0)`)
    .call(d3.axisLeft(y).tickValues(p.yTicks).tickSize(-16).tickPadding(p.yPad).tickFormat(d => String(d)))
    .call(s => styleAxis(s, fs));
  if (!p.rain) {
    axes.append('g').attr('transform', `translate(${p.right},0)`)
      .call(d3.axisRight(y).tickValues(p.yTicks).tickSize(-16).tickFormat(''))
      .call(s => styleAxis(s, fs));
  }
  const box = axes.append('g').attr('stroke', AX).attr('stroke-width', 2.5).attr('fill', 'none');
  box.append('line').attr('x1', p.left).attr('x2', p.right).attr('y1', p.top).attr('y2', p.top);
  box.append('line').attr('x1', p.left).attr('x2', p.right).attr('y1', p.bottom).attr('y2', p.bottom);
  box.append('line').attr('x1', p.left).attr('x2', p.left).attr('y1', p.top).attr('y2', p.bottom);
  box.append('line').attr('x1', p.right).attr('x2', p.right).attr('y1', p.top).attr('y2', p.bottom)
    .attr('stroke', p.rain ? C.rainObs : AX);
  if (p.rain) {
    P.yR = d3.scaleLinear().domain([0, 4]).range([p.bottom, p.top]);
    axes.append('g').attr('transform', `translate(${p.right},0)`)
      .call(d3.axisRight(P.yR).tickValues(rainTicks).tickSize(-16).tickPadding(12).tickFormat(d => String(d)))
      .call(s => styleAxis(s, fs, C.rainObs));
  }
  // title
  P.g.append('text').attr('x', (p.left + p.right) / 2).attr('y', p.titleY)
    .attr('text-anchor', 'middle').attr('font-size', 32).attr('font-weight', 'bold').text(p.title);
  // panel letter
  P.g.append('text').attr('x', 14).attr('y', p.letterY).attr('font-size', 80).text(p.letter);
}

function addParts(t, parts, fs) {
  let shift = 0;
  parts.forEach(pt => {
    const target = pt.sup ? -0.42 * fs : pt.sub ? 0.45 * fs : 0;
    const ts = t.append('tspan').attr('dy', target - shift).text(pt.t);
    if (pt.sup || pt.sub) ts.attr('font-size', fs * 0.7);
    if (pt.it) ts.attr('font-style', 'italic');
    shift = target;
  });
}

function yLabel(P, cx, parts, fs, ls, color) {
  const cy = (P.p.top + P.p.bottom) / 2;
  const t = P.g.append('text').attr('transform', `translate(${cx},${cy}) rotate(-90)`)
    .attr('text-anchor', 'middle').attr('font-size', fs).attr('letter-spacing', ls)
    .attr('fill', color || '#000').attr('y', fs * 0.35);
  addParts(t, parts, fs);
}

function xLabel(P, yb, fs) {
  P.g.append('text').attr('x', (P.p.left + P.p.right) / 2).attr('y', yb)
    .attr('text-anchor', 'middle').attr('font-size', fs).text('Day');
}

function line(P, data, color, width) {
  P.plot.append('path').datum(data)
    .attr('fill', 'none').attr('stroke', color).attr('stroke-width', width)
    .attr('stroke-linejoin', 'round')
    .attr('d', d3.line().defined(d => d[1] != null).x(d => P.x(d[0])).y(d => P.y(d[1])));
}

function marker(sel, type, cx, cy, color, s, sw) {
  if (type === 'circle') {
    sel.append('circle').attr('cx', cx).attr('cy', cy).attr('r', s)
      .attr('fill', 'none').attr('stroke', color).attr('stroke-width', sw);
  } else if (type === 'tri') {
    sel.append('path').attr('d', `M${cx},${cy - s * 1.1}L${cx + s},${cy + s * 0.75}L${cx - s},${cy + s * 0.75}Z`)
      .attr('fill', 'none').attr('stroke', color).attr('stroke-width', sw).attr('stroke-linejoin', 'miter');
  } else if (type === 'square') {
    sel.append('rect').attr('x', cx - s).attr('y', cy - s).attr('width', 2 * s).attr('height', 2 * s)
      .attr('fill', 'none').attr('stroke', color).attr('stroke-width', sw);
  }
}

function markers(P, pts, yScale, type, color, s, sw) {
  const g = P.plot.append('g');
  pts.forEach(d => { if (d[1] != null) marker(g, type, P.x(d[0]), yScale(d[1]), color, s, sw); });
}

function legend(P, box, rows, o) {
  const g = P.g.append('g');
  g.append('rect').attr('x', box[0]).attr('y', box[1]).attr('width', box[2] - box[0]).attr('height', box[3] - box[1])
    .attr('fill', '#fff').attr('stroke', AX).attr('stroke-width', 2.5);
  rows.forEach(r => {
    if (r.line) g.append('line').attr('x1', o.x1).attr('x2', o.x2).attr('y1', r.y).attr('y2', r.y)
      .attr('stroke', r.color).attr('stroke-width', o.lw);
    if (r.marker) marker(g, r.marker, (o.x1 + o.x2) / 2, r.y, r.color, o.ms, o.msw);
    const t = g.append('text').attr('x', o.tx).attr('y', r.y + o.fs * 0.36).attr('font-size', o.fs);
    addParts(t, r.parts, o.fs);
  });
}

const rainPts = arr => rainDays.map((d, i) => [d, arr[i]]);

// ----- (a) BC -----
const A = makePanel({ id: 'a', top: 52, bottom: 491, left: 249, right: 1835, yDomain: [0, 1500],
  yTicks: [0, 500, 1000, 1500], xTicks, fs: 32, xPad: 23, yPad: 15, rain: true,
  title: 'BC at ASI, Aug 2017', titleY: 38, letter: '(a)', letterY: 98 });
line(A, bcWrf, C.red, 3.5);
line(A, bcObs, C.black, 5.5);
markers(A, rainPts(rainWrf), A.yR, 'circle', C.rainWrf, 10, 5);
markers(A, rainPts(rainLasic), A.yR, 'tri', C.rainObs, 11, 4.5);
markers(A, rainPts(rainUk), A.yR, 'square', C.rainUk, 8, 7);
yLabel(A, 128, [{ t: 'BC (ng m' }, { t: '-3', sup: 1 }, { t: ')' }], 32, 3);
yLabel(A, 1910, [{ t: 'Rain (mm d' }, { t: '-1', sup: 1 }, { t: ')' }], 32, 3, C.rainObs);
xLabel(A, 584, 34);
legend(A, [274, 76, 531, 243], [
  { y: 96, line: 1, color: C.red, parts: [{ t: 'BC: WRF' }] },
  { y: 127, line: 1, color: C.black, parts: [{ t: 'BC:Obs' }] },
  { y: 160, marker: 'circle', color: C.rainWrf, parts: [{ t: 'Rain: WRF' }] },
  { y: 191, marker: 'tri', color: C.rainObs, parts: [{ t: 'Rain: LASIC' }] },
  { y: 222, marker: 'square', color: C.rainUk, parts: [{ t: 'Rain: UK' }] }
], { x1: 284, x2: 390, tx: 399, fs: 22, lw: 5, ms: 10, msw: 5 });

// ----- (b) CO -----
const B = makePanel({ id: 'b', top: 656, bottom: 1095, left: 249, right: 1835, yDomain: [50, 160],
  yTicks: [60, 80, 100, 120, 140, 160], xTicks, fs: 32, xPad: 23, yPad: 15, rain: true,
  title: 'CO at ASI, Aug 2017', titleY: 640, letter: '(b)', letterY: 712 });
line(B, coWrf, C.red, 3.5);
line(B, coObs, C.black, 5.5);
markers(B, rainPts(rainWrf), B.yR, 'circle', C.rainWrf, 10, 5);
markers(B, rainPts(rainLasic), B.yR, 'tri', C.rainObs, 11, 4.5);
markers(B, rainPts(rainUk), B.yR, 'square', C.rainUk, 8, 7);
yLabel(B, 150, [{ t: 'CO (ppbv)' }], 32, 3);
yLabel(B, 1910, [{ t: 'Rain (mm d' }, { t: '-1', sup: 1 }, { t: ')' }], 32, 3, C.rainObs);
legend(B, [274, 680, 560, 857], [
  { y: 706, line: 1, color: C.red, parts: [{ t: 'CO: WRF' }] },
  { y: 750, line: 1, color: C.black, parts: [{ t: 'CO: Obs' }] },
  { y: 791, marker: 'circle', color: C.rainWrf, parts: [{ t: 'Rain: WRF' }] },
  { y: 833, marker: 'tri', color: C.rainObs, parts: [{ t: 'Rain: Obs' }] }
], { x1: 286, x2: 392, tx: 398, fs: 31, lw: 5, ms: 11, msw: 5 });

// ----- (c) accumulation number -----
const Cc = makePanel({ id: 'c', top: 1215, bottom: 1693, left: 249, right: 1835, yDomain: [0, 1500],
  yTicks: [0, 500, 1000, 1500], xTicks, fs: 32, xPad: 23, yPad: 15,
  title: 'Accumulation # at ASI, Aug 2017', titleY: 1198, letter: '(c)', letterY: 1237 });
line(Cc, accWrf, C.red, 3.5);
line(Cc, accSmps, C.black, 4.5);
line(Cc, accUhsas, C.blue, 3);
yLabel(Cc, 128, [{ t: 'cm' }, { t: '-3', sup: 1 }], 32, 3);
legend(Cc, [274, 1236, 516, 1372], [
  { y: 1261, line: 1, color: C.red, parts: [{ t: 'WRF' }] },
  { y: 1304, line: 1, color: C.black, parts: [{ t: 'SMPS' }] },
  { y: 1347, line: 1, color: C.blue, parts: [{ t: 'UHSAS' }] }
], { x1: 286, x2: 392, tx: 398, fs: 31, lw: 6 });

// ----- (d) accumulation diameter -----
const D = makePanel({ id: 'd', top: 1794, bottom: 2260, left: 249, right: 1835, yDomain: [0.05, 0.28],
  yTicks: [0.05, 0.1, 0.15, 0.2, 0.25], xTicks, fs: 32, xPad: 23, yPad: 15,
  title: 'Accumulation Diam at ASI, Aug 2017', titleY: 1777, letter: '(d)', letterY: 1851 });
line(D, diamWrf, C.red, 3.5);
line(D, diamSmps, C.black, 5);
line(D, diamUhsas, C.blue, 2.5);
yLabel(D, 143, [{ t: 'μ', it: 1 }, { t: 'm' }], 32, 3);
legend(D, [274, 1814, 516, 1947], [
  { y: 1840, line: 1, color: C.red, parts: [{ t: 'WRF' }] },
  { y: 1881, line: 1, color: C.black, parts: [{ t: 'SMPS' }] },
  { y: 1923, line: 1, color: C.blue, parts: [{ t: 'UHSAS' }] }
], { x1: 286, x2: 392, tx: 398, fs: 31, lw: 6 });

// ----- (e) hygroscopicity -----
const E = makePanel({ id: 'e', top: 2351, bottom: 2829, left: 249, right: 1835, yDomain: [0, 1],
  yTicks: [0, 0.2, 0.4, 0.6, 0.8, 1], xTicks: xTicksE, fs: 32, xPad: 23, yPad: 15,
  title: 'Hygroscopicity Aug 2017', titleY: 2336, letter: '(e)', letterY: 2423 });
line(E, kWrf, C.blue, 5);
line(E, kCcn01, C.orange, 3.5);
line(E, kCcn02, C.purple, 3.5);
line(E, kCcn10, C.green, 3.5);
yLabel(E, 158, [{ t: 'κ' }], 44, 0);
legend(E, [1526, 2373, 1806, 2549], [
  { y: 2398, line: 1, color: C.blue, parts: [{ t: 'WRF' }] },
  { y: 2440, line: 1, color: C.orange, parts: [{ t: 'CCN 0.1 %' }] },
  { y: 2482, line: 1, color: C.purple, parts: [{ t: 'CCN 0.2 %' }] },
  { y: 2524, line: 1, color: C.green, parts: [{ t: 'CCN 1.0 %' }] }
], { x1: 1538, x2: 1642, tx: 1652, fs: 30, lw: 6 });

// ----- (f) inversion height -----
const F = makePanel({ id: 'f', top: 2944, bottom: 3415, left: 244, right: 1831, yDomain: [1200, 3800],
  yTicks: [1500, 2000, 2500, 3000, 3500], xTicks, fs: 25, xPad: 19, yPad: 10,
  title: 'Inversion height, Aug 2017', titleY: 2928, letter: '(f)', letterY: 3015 });
line(F, invWrf, C.red, 2.5);
line(F, invHeff, C.black, 2.5);
markers(F, invHeff, F.y, 'circle', C.black, 7, 2.5);
markers(F, invSonde, F.y, 'circle', C.purple, 7, 2.5);
yLabel(F, 158, [{ t: 'Height (m)' }], 25, 2.5);
xLabel(F, 3490, 30);
legend(F, [1592, 2963, 1812, 3092], [
  { y: 2983, line: 1, color: C.red, parts: [{ t: 'WRF inv top' }] },
  { y: 3020, line: 1, marker: 'circle', color: C.black, parts: [{ t: 'Heffter' }, { t: 'max', sub: 1 }] },
  { y: 3062, marker: 'circle', color: C.purple, parts: [{ t: 'Sonde' }, { t: 'calc', sub: 1 }] }
], { x1: 1592, x2: 1660, tx: 1668, fs: 21, lw: 3, ms: 7, msw: 2.5 });

// regime boxes
const regimes = [
  { label: 'Medium', x0: 370, x1: 603, y0: 2962, y1: 3052, ty: 3020 },
  { label: 'Smoky', x0: 862, x1: 1078, y0: 2962, y1: 3052, ty: 3020 },
  { label: 'Clean', x0: 1291, x1: 1508, y0: 2958, y1: 3048, ty: 3016 },
  { label: 'Smoky', x0: 1565, x1: 1776, y0: 2878, y1: 2967, ty: 2934 }
];
const rg = F.g.append('g');
regimes.forEach(r => {
  rg.append('rect').attr('x', r.x0).attr('y', r.y0).attr('width', r.x1 - r.x0).attr('height', r.y1 - r.y0)
    .attr('fill', '#fff').attr('stroke', '#000').attr('stroke-width', 7);
  rg.append('text').attr('x', (r.x0 + r.x1) / 2).attr('y', r.ty).attr('text-anchor', 'middle')
    .attr('font-size', 41).text(r.label);
});

// ----- (g) inversion strength -----
const G = makePanel({ id: 'g', top: 3594, bottom: 4062, left: 244, right: 1831, yDomain: [0, 16],
  yTicks: [0, 2, 4, 6, 8, 10, 12, 14, 16], xTicks, fs: 25, xPad: 19, yPad: 10,
  title: 'Inversion strength index at ASI, Aug 2017', titleY: 3578, letter: '(g)', letterY: 3647 });
line(G, dthWrf, C.red, 2.5);
line(G, dthHeff, C.black, 2.5);
markers(G, dthHeff, G.y, 'circle', C.black, 7, 2.5);
markers(G, dthCalc, G.y, 'circle', C.purple, 7, 2.5);
yLabel(G, 183, [{ t: 'd' }, { t: 'θ', it: 1 }, { t: ' across inversion (°K)' }], 25, 2.5);
xLabel(G, 4134, 30);
legend(G, [950, 3894, 1140, 4020], [
  { y: 3912, line: 1, color: C.red, parts: [{ t: 'WRF' }] },
  { y: 3950, line: 1, marker: 'circle', color: C.black, parts: [{ t: 'd' }, { t: 'θ', it: 1 }, { t: 'Heff-max', sub: 1 }] },
  { y: 3993, marker: 'circle', color: C.purple, parts: [{ t: 'd' }, { t: 'θ', it: 1 }, { t: 'calc', sub: 1 }] }
], { x1: 955, x2: 1025, tx: 1032, fs: 24, lw: 3, ms: 7, msw: 2.5 });

// ----- regime boundaries across all panels -----
svg.append('g').selectAll('line').data(dashDays).join('line')
  .attr('x1', d => A.x(d)).attr('x2', d => A.x(d))
  .attr('y1', 52).attr('y2', H)
  .attr('stroke', '#000').attr('stroke-width', 10).attr('stroke-dasharray', '46,32');
</script>
</body>
</html>
